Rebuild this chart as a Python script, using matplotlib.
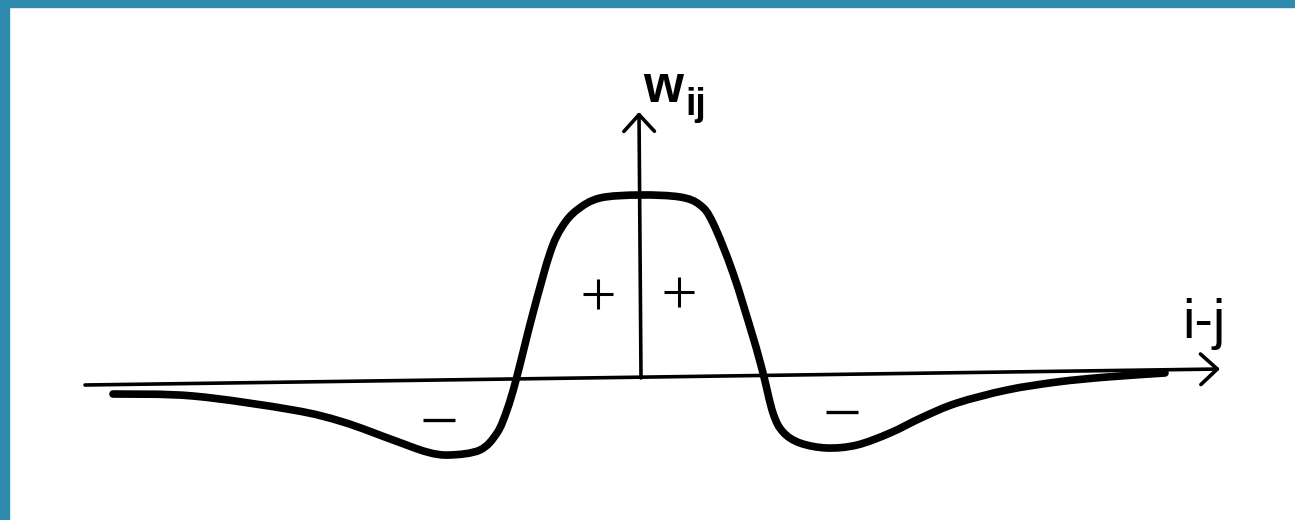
import matplotlib
matplotlib.use('Agg')
import matplotlib.pyplot as plt
import numpy as np
from matplotlib.patches import Rectangle, PathPatch
from matplotlib.path import Path

# weight curve w_ij against i-j (units: arbitrary, origin at axis crossing)
curve_x = [-52.8, -44.8, -34.8, -29.8, -24.8, -21.4, -19.1, -16.1, -14.4, -13.4,
           -12.5, -10.8, -9.1, -7.9, -6.4, -4.1, -0.1, 3.9, 5.9, 7.2,
           9.2, 11.2, 12.2, 13.2, 14.2, 15.9, 18.6, 21.6, 24.9, 28.2,
           31.6, 36.6, 41.6, 46.6, 52.4]
curve_y = [-1.6, -1.8, -3.2, -4.4, -6.2, -7.4, -7.7, -7.2, -5.5, -3.2,
           -0.2, 6.5, 12.5, 15.1, 16.8, 18.0, 18.3, 18.1, 17.3, 15.5,
           10.5, 4.1, 0.5, -3.5, -5.4, -6.5, -7.0, -6.7, -5.5, -3.9,
           -2.5, -1.2, -0.4, 0.1, 0.5]

# axes as drawn (slightly slanted baseline)
xaxis_x = [-55.6, 57.9]
xaxis_y = [-0.7, 0.9]
yaxis_x = [0.0, -0.2]
yaxis_y = [0.0, 26.6]

# sign markers
plus_x = [-4.3, 3.8]
plus_y = [8.4, 8.6]
minus_x = [-20.2, 20.1]
minus_y = [-4.2, -3.4]

fig = plt.figure(figsize=(12.95, 5.2), dpi=100)
ax = fig.add_axes([0, 0, 1, 1])
ax.set_xlim(-64.1, 65.4)
ax.set_ylim(-14.2, 37.8)
ax.axis('off')

# blue frame on top and left edges
blue = '#2e8bae'
fig.patches.append(Rectangle((0, 0), 9 / 1295, 1, transform=fig.transFigure,
                             color=blue, zorder=10))
fig.patches.append(Rectangle((0, 1 - 7 / 520), 1, 7 / 520, transform=fig.transFigure,
                             color=blue, zorder=10))

# axes lines with open arrow heads
arrow = dict(arrowstyle='->,head_length=0.6,head_width=0.55', lw=2.6,
             color='black', mutation_scale=20, shrinkA=0, shrinkB=0)
ax.annotate('', xy=(xaxis_x[1], xaxis_y[1]), xytext=(xaxis_x[0], xaxis_y[0]),
            arrowprops=arrow)
ax.annotate('', xy=(yaxis_x[1], yaxis_y[1]), xytext=(yaxis_x[0], yaxis_y[0]),
            arrowprops=arrow)

# the curve, drawn as a smooth bezier path through the read points
pts = np.column_stack([curve_x, curve_y])
verts = [pts[0]]
codes = [Path.MOVETO]
n = len(pts)
for i in range(n - 1):
    p0 = pts[max(i - 1, 0)]
    p1 = pts[i]
    p2 = pts[i + 1]
    p3 = pts[min(i + 2, n - 1)]
    verts += [p1 + (p2 - p0) / 6, p2 - (p3 - p1) / 6, p2]
    codes += [Path.CURVE4] * 3
ax.add_patch(PathPatch(Path(verts, codes), facecolor='none', edgecolor='black',
                       lw=5.5, joinstyle='round', capstyle='round'))

# + and - signs
ax.plot(plus_x, plus_y, ls='none', marker='+', ms=21, mew=2.2, color='black')
ax.plot(minus_x, minus_y, ls='none', marker='_', ms=23, mew=2.4, color='black')

# labels
ax.text(0.2, 27.6, 'w', fontsize=37, fontweight='bold', family='Liberation Sans',
        ha='left', va='baseline')
ax.text(4.4, 26.3, 'ij', fontsize=27, fontweight='bold', family='Liberation Sans',
        ha='left', va='baseline')
ax.text(54.1, 4.0, 'i-j', fontsize=40, family='Liberation Sans',
        ha='left', va='baseline')

fig.savefig('out.png', dpi=100, facecolor='white')
